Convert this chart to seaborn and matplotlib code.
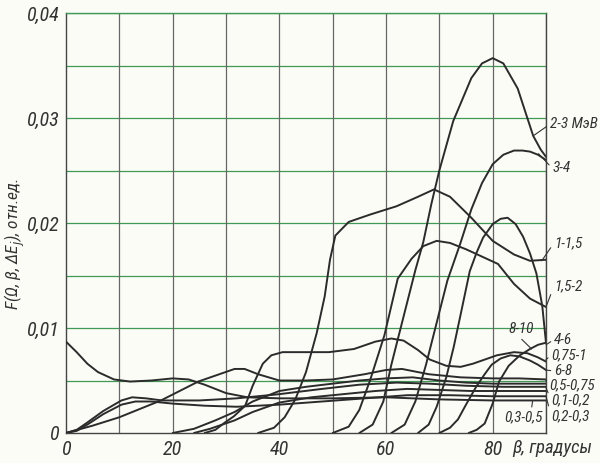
import matplotlib
matplotlib.use("Agg")
import matplotlib.pyplot as plt
import seaborn as sns
import numpy as np
import pandas as pd
from matplotlib import font_manager

# values: beta in degrees, F in relative units
x_23 = [55, 57.5, 59.5, 61, 62.5, 64, 65.5, 67, 68.5, 70, 72.6, 76, 78, 80, 82, 84.7, 86.5, 87.6, 89, 90]
y_23 = [0, 0.0008, 0.003, 0.0065, 0.0095, 0.0125, 0.0155, 0.0182, 0.0218, 0.025, 0.0297, 0.0338, 0.0352, 0.0357, 0.0352, 0.0328, 0.0300, 0.0283, 0.0270, 0.0263]

x_34 = [61, 63.5, 65.5, 67.5, 69.5, 71.5, 73.9, 76, 78, 80, 82, 84, 85.6, 87, 88.5, 90]
y_34 = [0, 0.0008, 0.003, 0.0065, 0.0105, 0.0145, 0.018, 0.0213, 0.0238, 0.0256, 0.0265, 0.0269, 0.0269, 0.0268, 0.0265, 0.026]

x_1_15 = [36, 39, 41, 43, 45, 47, 48.5, 49.5, 50.5, 53, 57, 62, 66, 69, 72, 76, 80, 84, 87, 90]
y_1_15 = [0, 0.0005, 0.0015, 0.0032, 0.0058, 0.0095, 0.013, 0.0165, 0.0188, 0.0201, 0.0208, 0.0216, 0.0225, 0.0232, 0.0225, 0.0205, 0.0183, 0.017, 0.0164, 0.0165]

x_15_2 = [50, 53, 55, 57, 59.7, 62.2, 64.8, 67, 69.5, 72, 75, 78, 81, 84, 87, 90]
y_15_2 = [0, 0.0006, 0.0022, 0.005, 0.0093, 0.0147, 0.0166, 0.0178, 0.0183, 0.0181, 0.0175, 0.0168, 0.0161, 0.0142, 0.0128, 0.012]

x_46 = [66, 68, 69.5, 71.3, 72.7, 74, 75.7, 77, 78.2, 80, 81.5, 82.8, 84.3, 85.7, 87, 88.2, 89.3, 90]
y_46 = [0, 0.0008, 0.0025, 0.0053, 0.0082, 0.0113, 0.0154, 0.0172, 0.0186, 0.0199, 0.0204, 0.0205, 0.0199, 0.0187, 0.0171, 0.0152, 0.0121, 0.0086]

x_68 = [70, 72, 73.5, 75, 76.9, 78.5, 79.8, 81.5, 83.3, 85, 87, 88.5, 90]
y_68 = [0, 0.0005, 0.0013, 0.0027, 0.0044, 0.0056, 0.0065, 0.0071, 0.0074, 0.0073, 0.0069, 0.0065, 0.006]

x_810 = [75.5, 77, 78.5, 80, 81.2, 83, 85.1, 87, 88.5, 90]
y_810 = [0, 0.0003, 0.0009, 0.0028, 0.0049, 0.0064, 0.0074, 0.008, 0.0084, 0.0086]

x_075_1 = [26, 28, 29.8, 31.5, 33.6, 35, 36.9, 38.5, 40.6, 45, 49.3, 54, 58, 61, 63.3, 66, 68.2, 71.3, 74, 76.3, 80.8, 84, 86.5, 88.5, 90]
y_075_1 = [0, 0.0003, 0.001, 0.0016, 0.0026, 0.0045, 0.0066, 0.0074, 0.0077, 0.0077, 0.0077, 0.008, 0.0087, 0.009, 0.0088, 0.0079, 0.007, 0.0064, 0.0063, 0.0066, 0.0074, 0.0077, 0.0076, 0.0072, 0.0068]

x_05_075 = [0, 5, 10, 17.8, 24.8, 31.6, 33.5, 36, 40, 45, 50, 56, 60, 63, 68, 74, 80, 85, 90]
y_05_075 = [0, 0.0007, 0.0015, 0.0031, 0.0049, 0.0061, 0.0061, 0.0056, 0.005, 0.005, 0.0051, 0.0056, 0.006, 0.0061, 0.0056, 0.0053, 0.0052, 0.0052, 0.0051]

x_a = [20, 24, 28, 31.6, 35, 40, 45, 50, 55, 60, 65, 70, 75, 80, 85, 90]
y_a = [0, 0.0004, 0.0012, 0.002, 0.003, 0.004, 0.0044, 0.0047, 0.005, 0.0052, 0.0053, 0.005, 0.0048, 0.0047, 0.0047, 0.0047]

x_01_02 = [0, 2, 4, 7, 10.4, 12.4, 15, 18, 25, 32, 40, 48, 55, 62, 68, 75, 82, 90]
y_01_02 = [0, 0.0003, 0.001, 0.0021, 0.0031, 0.0034, 0.0033, 0.0031, 0.0031, 0.0033, 0.0037, 0.0042, 0.0046, 0.0048, 0.0047, 0.0045, 0.0044, 0.0044]

x_b = [24, 27, 31.6, 35, 40, 46, 52, 58, 64, 70, 76, 82, 90]
y_b = [0, 0.0004, 0.0012, 0.002, 0.0029, 0.0034, 0.0037, 0.004, 0.0042, 0.0041, 0.004, 0.004, 0.004]

x_02_03 = [0, 2, 4, 7, 10.4, 13, 16, 20, 26, 32, 40, 48, 56, 64, 72, 80, 90]
y_02_03 = [0, 0.0002, 0.0008, 0.0018, 0.0027, 0.003, 0.003, 0.0028, 0.0026, 0.0025, 0.0027, 0.003, 0.0033, 0.0036, 0.0036, 0.0035, 0.0035]

x_03_05 = [0, 2, 4, 6, 9, 12, 16, 20, 23, 26, 30, 34, 40, 50, 60, 70, 80, 90]
y_03_05 = [0.0087, 0.0077, 0.0066, 0.0058, 0.0051, 0.0049, 0.005, 0.0052, 0.0051, 0.0046, 0.0038, 0.0034, 0.0033, 0.0033, 0.0034, 0.0032, 0.0031, 0.0031]

curves = {
    "2-3": (x_23, y_23), "3-4": (x_34, y_34), "1-1,5": (x_1_15, y_1_15),
    "1,5-2": (x_15_2, y_15_2), "4-6": (x_46, y_46), "6-8": (x_68, y_68),
    "8-10": (x_810, y_810), "0,75-1": (x_075_1, y_075_1),
    "0,5-0,75": (x_05_075, y_05_075), "a": (x_a, y_a),
    "0,1-0,2": (x_01_02, y_01_02), "b": (x_b, y_b),
    "0,2-0,3": (x_02_03, y_02_03), "0,3-0,5": (x_03_05, y_03_05),
}

rows = []
for name, (xs, ys) in curves.items():
    for xv, yv in zip(xs, ys):
        rows.append({"beta": xv, "F": yv, "curve": name})
df = pd.DataFrame(rows)

# label text, leader end point on curve, text position
labels = [
    ("2-3 МэВ", (87.6, 0.0283), (90.7, 0.0294)),
    ("3-4", (88.6, 0.0266), (91.2, 0.0252)),
    ("1-1,5", (89.2, 0.0164), (91.5, 0.0181)),
    ("1,5-2", (90.0, 0.0120), (91.5, 0.0140)),
    ("4-6", (90.0, 0.0084), (91.5, 0.0089)),
    ("0,75-1", (90.0, 0.0070), (91.0, 0.0074)),
    ("6-8", (90.0, 0.0060), (91.5, 0.0059)),
    ("0,5-0,75", (90.0, 0.0050), (90.7, 0.0045)),
    ("0,1-0,2", (90.0, 0.0043), (91.0, 0.0031)),
    ("0,2-0,3", (90.0, 0.0035), (91.0, 0.0016)),
]

sns.set_theme(style="white")
installed = {f.name for f in font_manager.fontManager.ttflist}
narrow = [n for n in ["Liberation Sans Narrow", "DejaVu Sans Condensed", "Roboto Condensed"] if n in installed]
plt.rcParams['font.family'] = narrow + ['DejaVu Sans']
plt.rcParams['font.style'] = 'italic'
cond = 'condensed'

fig = plt.figure(figsize=(6, 4.63), dpi=100)
fig.patch.set_facecolor("#fcfcf7")
ax = fig.add_axes([66 / 600, 30 / 463, 480 / 600, 420 / 463])
ax.set_facecolor("#fcfcf7")

# grid: green horizontal lines, grey vertical lines
for yv in np.arange(0.005, 0.0401, 0.005):
    ax.axhline(yv, color="#3f9a55", lw=0.9, zorder=1)
for xv in range(10, 91, 10):
    ax.axvline(xv, color="#666666", lw=0.9, zorder=1)

sns.lineplot(data=df, x="beta", y="F", hue="curve", units="curve", estimator=None,
             palette=["#2b2b2b"] * len(curves), legend=False, lw=1.4, ax=ax, zorder=3)

fs = 11 if narrow else 9.5
for text, xy, xyt in labels:
    ax.annotate(text, xy=xy, xytext=xyt, textcoords="data", ha="left", va="center",
                fontsize=fs, color="#333333", annotation_clip=False, fontstretch=cond,
                arrowprops=dict(arrowstyle="-", lw=0.8, color="#333333", relpos=(0, 0.5),
                                shrinkA=0, shrinkB=0))
ax.annotate("8-10", xy=(87.3, 0.0080), xytext=(85.3, 0.0099), textcoords="data",
            ha="center", va="center", fontsize=fs, color="#333333", fontstretch=cond,
            arrowprops=dict(arrowstyle="-", lw=0.8, color="#333333", relpos=(0.4, 0),
                            shrinkA=0, shrinkB=0))
ax.annotate("0,3-0,5", xy=(87.5, 0.0031), xytext=(85.8, 0.0015), textcoords="data",
            ha="center", va="center", fontsize=fs, color="#333333", fontstretch=cond,
            arrowprops=dict(arrowstyle="-", lw=0.8, color="#333333", relpos=(0.7, 1),
                            shrinkA=0, shrinkB=0))

tfs = 14.5 if narrow else 12
ax.set_xlim(0, 90)
ax.set_ylim(0, 0.04)
ax.set_xticks([0, 20, 40, 60, 80])
ax.set_xticklabels(["0", "20", "40", "60", "80"], fontsize=tfs, color="#333333", fontstretch=cond)
ax.set_yticks([0, 0.01, 0.02, 0.03, 0.04])
ax.set_yticklabels(["0", "0,01", "0,02", "0,03", "0,04"], fontsize=tfs, color="#333333", fontstretch=cond)
ax.tick_params(length=0, pad=5)
ax.set_xlabel("")
ax.set_ylabel(r"F(Ω, β, ΔE$_j$), отн.ед.", fontsize=12.5, color="#333333", fontstretch=cond)
ax.yaxis.set_label_coords(-0.082, 0.45)
ax.text(83.6, -0.0014, "β, градусы", fontsize=13.5, color="#333333", ha="left", va="center", fontstretch=cond)
for side in ["left", "bottom", "top", "right"]:
    ax.spines[side].set_color("#444444")
    ax.spines[side].set_linewidth(1.0)
ax.spines["top"].set_color("#3f9a55")

fig.savefig("out.png", dpi=100, facecolor=fig.get_facecolor())
